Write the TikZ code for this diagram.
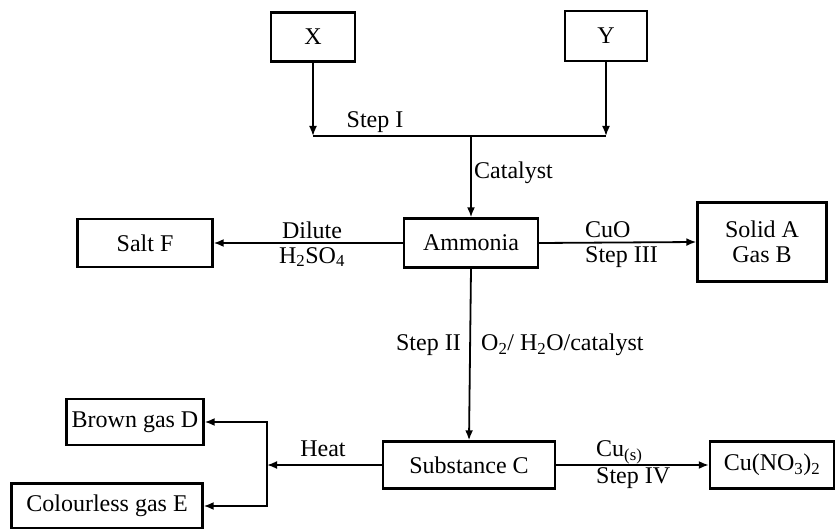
\documentclass[tikz,border=0pt]{standalone}
\usepackage{fontspec}
\setmainfont{Liberation Serif}
\usetikzlibrary{arrows.meta,positioning,calc}

\begin{document}
\begin{tikzpicture}[
    x=1pt, y=-1pt,
    font=\fontsize{24}{25}\selectfont,
    box/.style={draw, line width=2.4pt, inner sep=2pt, align=center},
    arr/.style={-{Latex[length=10pt,width=8pt]}, line width=1.8pt},
    lnk/.style={line width=1.8pt},
    lbl/.style={inner sep=1pt}
]
\useasboundingbox (0,0) rectangle (838,529);

% boxes
\node[box, minimum width=84pt, minimum height=49pt] (x) at (313,37) {X};
\node[box, minimum width=82pt, minimum height=50pt] (y) at (606,36) {Y};
\node[box, minimum width=134pt, minimum height=49pt] (ammonia) at (471,243) {Ammonia};
\node[box, minimum width=135pt, minimum height=48pt] (saltF) at (145,243) {Salt F};
\node[box, minimum width=129pt, minimum height=79pt] (solidA) at (762,242) {Solid A\\Gas B};
\node[box, minimum width=172pt, minimum height=47pt] (subC) at (469,465) {Substance C};
\node[box, minimum width=124pt, minimum height=47pt] (cuno) at (772,465) {Cu(NO\textsubscript{3})\textsubscript{2}};
\node[box, minimum width=137pt, minimum height=46pt] (brownD) at (135,422) {Brown gas D};
\node[box, minimum width=191pt, minimum height=45pt] (colourE) at (107,506) {Colourless gas E};

% step I
\coordinate (barL) at (x.south |- 0,136);
\coordinate (barR) at (y.south |- 0,136);
\coordinate (join) at (ammonia.north |- 0,136);
\draw[arr] (x.south) -- (barL);
\draw[arr] (y.south) -- (barR);
\draw[lnk] (barL) -- (barR);
\draw[arr] (join) -- (ammonia.north);
\node[lbl] (stepI) at (375,122) {Step I};
\node[lbl, anchor=west] (cat) at (473,173) {Catalyst};

% side reactions of ammonia
\draw[arr] (ammonia.west) -- (saltF.east);
\node[lbl] (dilute) at (312,230) {Dilute};
\node[lbl] (acid) at (312,257) {H\textsubscript{2}SO\textsubscript{4}};
\draw[arr] (ammonia.east) -- (solidA.west);
\node[lbl, anchor=west] (cuo) at (584,230) {CuO};
\node[lbl, anchor=west] (stepIII) at (584,257) {Step III};

% step II
\draw[arr] (ammonia.south) -- (subC.north);
\node[lbl, anchor=east] (stepII) at (462,345) {Step II};
\node[lbl, anchor=west] (oxid) at (480,345) {O\textsubscript{2}/ H\textsubscript{2}O/catalyst};

% step IV
\draw[arr] (subC.east) -- (cuno.west);
\node[lbl, anchor=west] (cus) at (595,452) {Cu\textsubscript{(s)}};
\node[lbl, anchor=west] (stepIV) at (595,478) {Step IV};

% heating C
\coordinate (split) at (267,465);
\draw[arr] (subC.west) -- (split);
\node[lbl] (heat) at (323,449) {Heat};
\draw[arr] (split) |- (brownD.east);
\draw[arr] (split) |- (colourE.east);
\end{tikzpicture}
\end{document}
